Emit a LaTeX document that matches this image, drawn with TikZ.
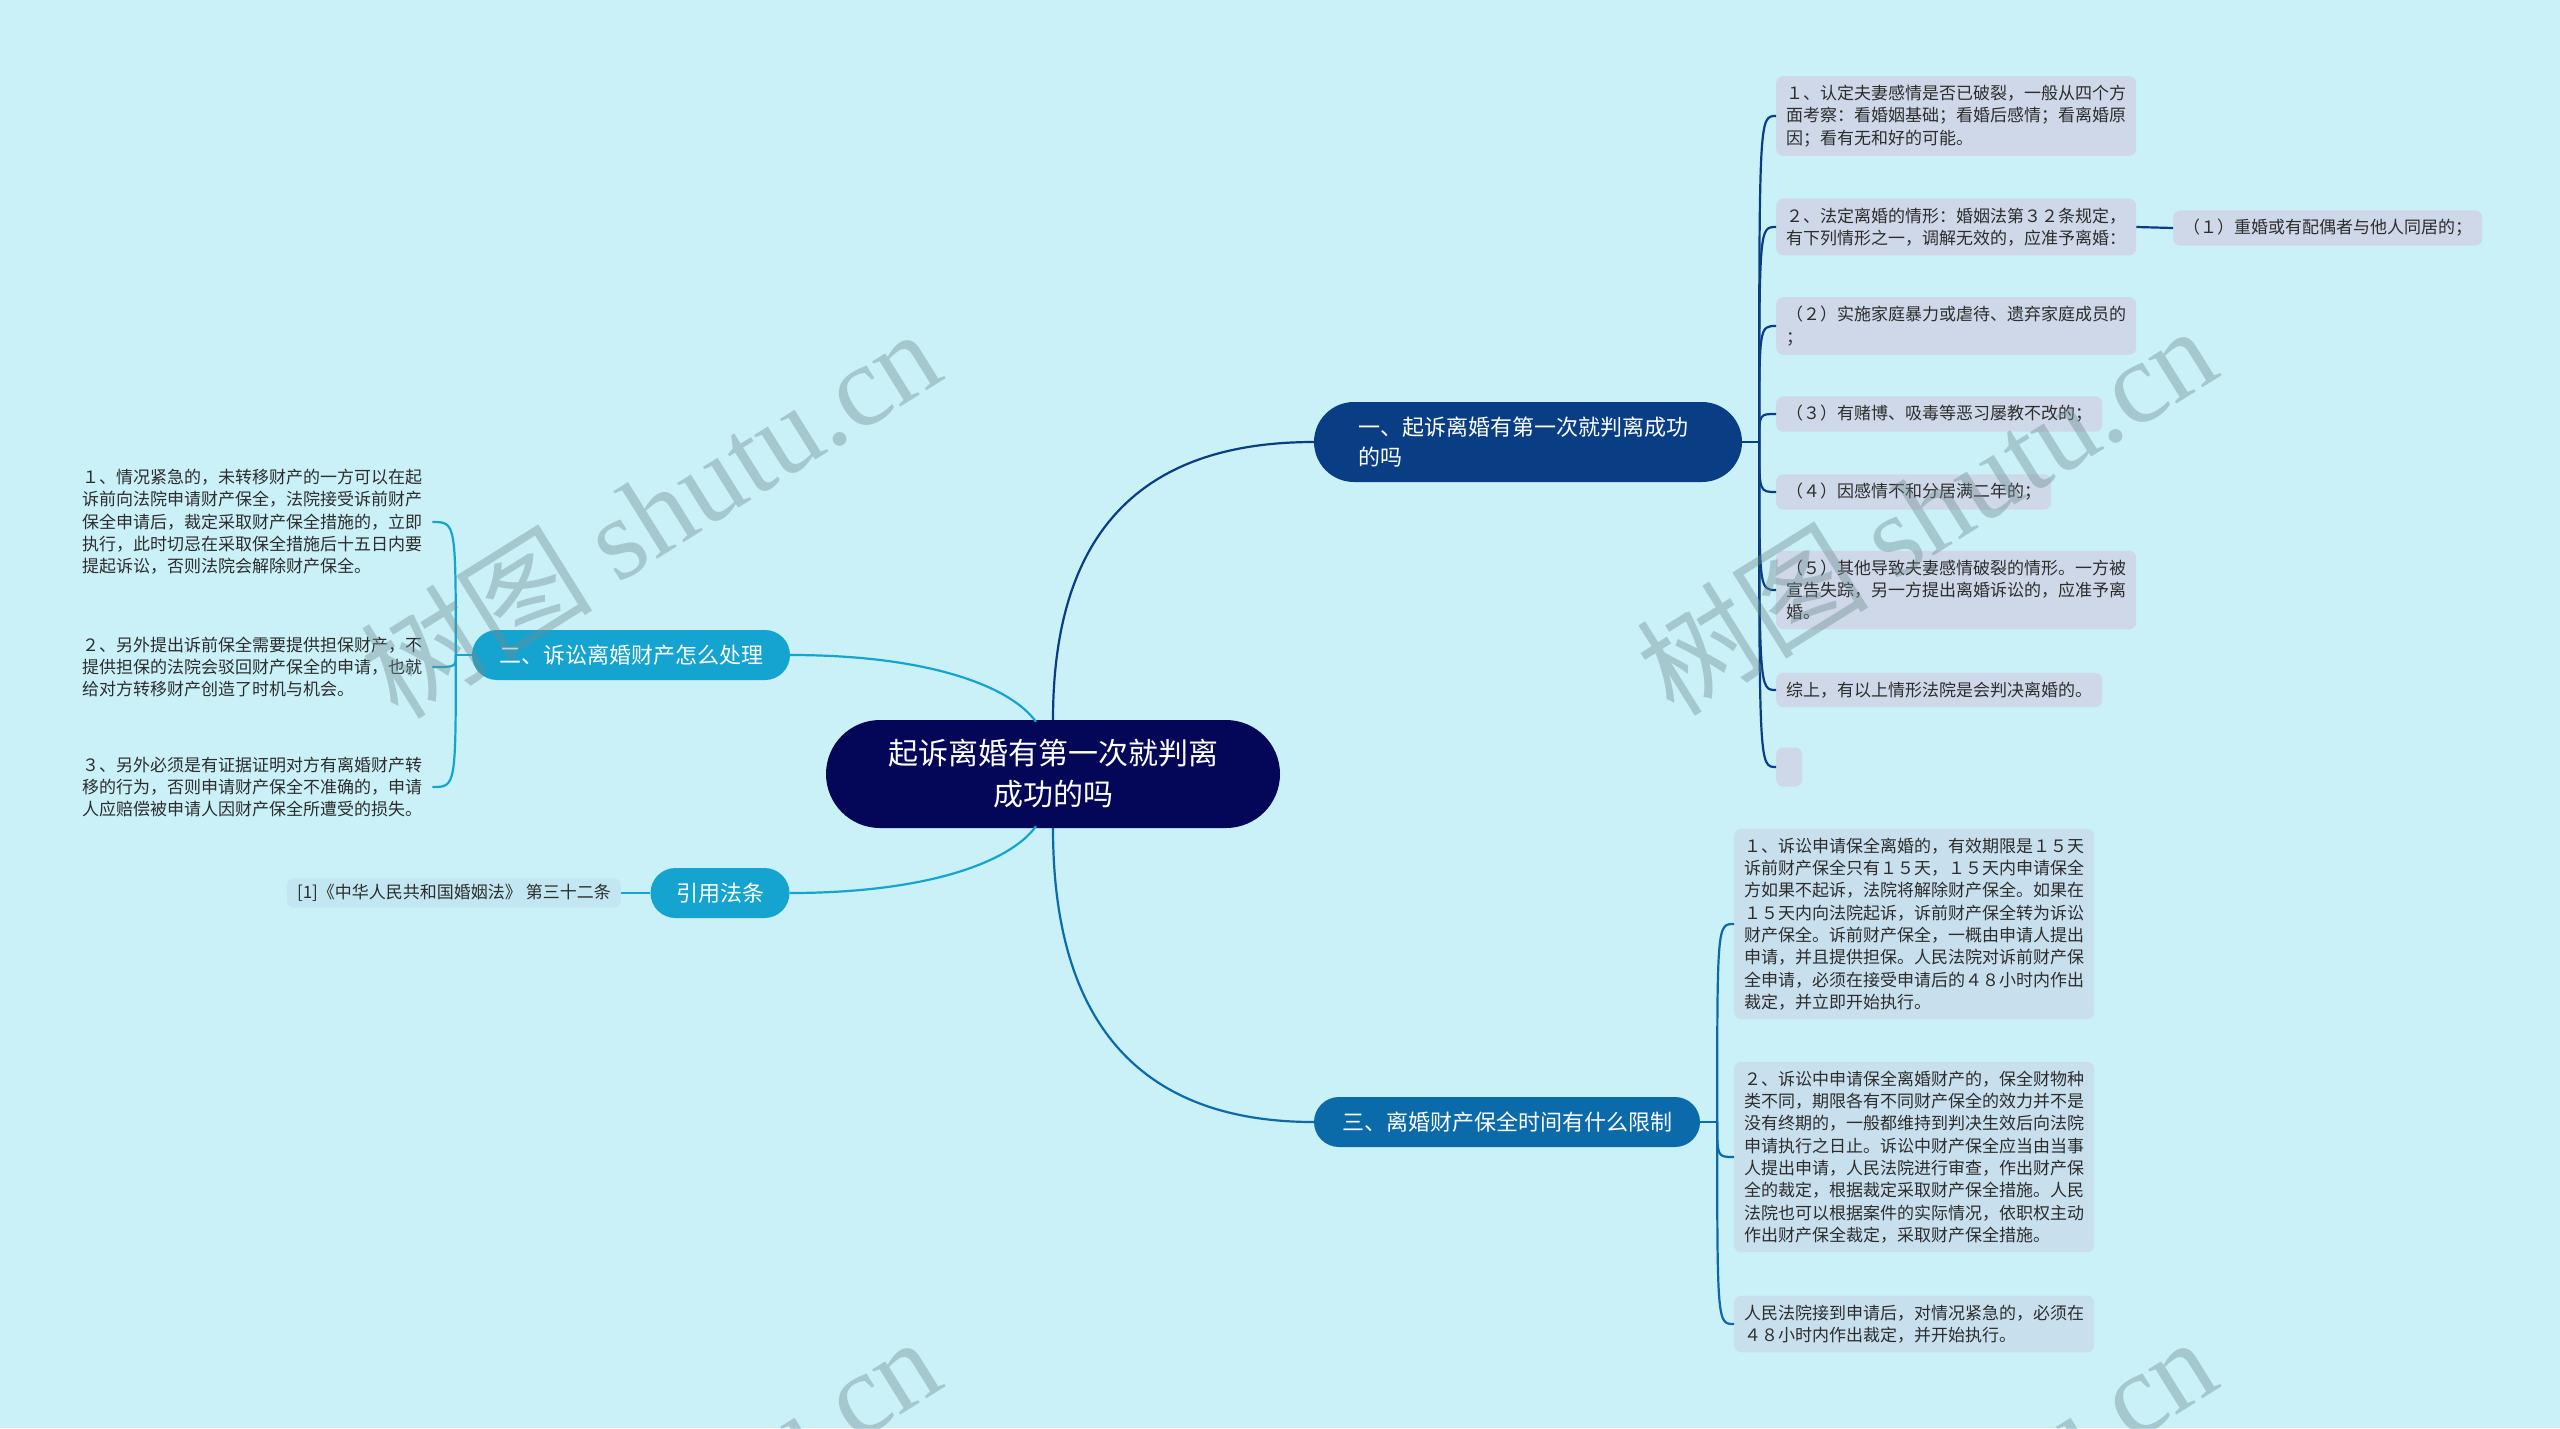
\documentclass[tikz,border=0pt]{standalone}
\usepackage{fontspec}
\setmainfont{Noto Sans CJK SC}
\newfontfamily\wmfont{Liberation Serif}
\usetikzlibrary{calc}
\definecolor{bgc}{RGB}{202,240,248}
\definecolor{rootc}{RGB}{4,6,88}
\definecolor{bonec}{RGB}{9,62,133}
\definecolor{bthreec}{RGB}{11,106,170}
\definecolor{btwoc}{RGB}{20,164,207}
\definecolor{leafa}{RGB}{206,216,232}
\definecolor{leafb}{RGB}{200,223,237}
\definecolor{leafc}{RGB}{194,231,242}
\definecolor{txtc}{RGB}{45,45,45}
\definecolor{wmc}{RGB}{110,140,145}
\tikzset{
  rootbox/.style={fill=rootc, text=white, rounded corners=54pt, minimum width=454pt, minimum height=108pt, align=center, font=\fontsize{30}{41}\selectfont, inner sep=0pt},
  branchbox/.style={text=white, minimum height=50pt, inner xsep=0pt, inner ysep=0pt, font=\fontsize{22}{30}\selectfont},
  leafbox/.style={rounded corners=7pt, inner xsep=10pt, inner ysep=9pt, align=left, text=txtc, font=\fontsize{17}{22.3}\selectfont, anchor=west},
  plainleaf/.style={inner xsep=10pt, inner ysep=4pt, align=left, text=txtc, font=\fontsize{17}{22.3}\selectfont, anchor=west},
  lone/.style={draw=bonec, line width=2.2pt},
  lthree/.style={draw=bthreec, line width=2.2pt},
  ltwo/.style={draw=btwoc, line width=2.2pt},
  wm/.style={rotate=32, text=wmc, opacity=0.4, font=\fontsize{116}{116}\selectfont, inner sep=0pt}
}
\begin{document}
\begin{tikzpicture}[x=1pt,y=-1pt]
\fill[bgc] (0,0) rectangle (2560,1428);
\useasboundingbox (0,0) rectangle (2560,1428);
\clip (0,0) rectangle (2560,1428);

% root
\node[rootbox] (root) at (1053,774) {起诉离婚有第一次就判离\\成功的吗};

% branches
\node[branchbox, fill=bonec, rounded corners=40pt, minimum width=428pt, minimum height=80pt, text width=340pt, align=left] (bone) at (1528,442) {一、起诉离婚有第一次就判离成功\\的吗};
\node[branchbox, fill=bthreec, rounded corners=25pt, minimum width=386pt] (bthree) at (1507,1122) {三、离婚财产保全时间有什么限制};
\node[branchbox, fill=btwoc, rounded corners=25pt, minimum width=318pt] (btwo) at (631,655) {二、诉讼离婚财产怎么处理};
\node[branchbox, fill=btwoc, rounded corners=25pt, minimum width=139pt] (bcite) at (720,893) {引用法条};

% branch one leaves
\node[leafbox, fill=leafa] (la) at (1776,116) {１、认定夫妻感情是否已破裂，一般从四个方\\面考察：看婚姻基础；看婚后感情；看离婚原\\因；看有无和好的可能。};
\node[leafbox, fill=leafa] (lb) at (1776,227) {２、法定离婚的情形：婚姻法第３２条规定，\\有下列情形之一，调解无效的，应准予离婚：};
\node[leafbox, fill=leafa] (lba) at (2173,228) {（１）重婚或有配偶者与他人同居的；};
\node[leafbox, fill=leafa] (lc) at (1776,326) {（２）实施家庭暴力或虐待、遗弃家庭成员的\\；};
\node[leafbox, fill=leafa] (ld) at (1776,414) {（３）有赌博、吸毒等恶习屡教不改的；};
\node[leafbox, fill=leafa] (le) at (1776,492) {（４）因感情不和分居满二年的；};
\node[leafbox, fill=leafa] (lf) at (1776,590) {（５）其他导致夫妻感情破裂的情形。一方被\\宣告失踪，另一方提出离婚诉讼的，应准予离\\婚。};
\node[leafbox, fill=leafa] (lg) at (1776,690) {综上，有以上情形法院是会判决离婚的。};
\node[leafbox, fill=leafa, minimum width=26pt, minimum height=39pt, inner sep=0pt] (lh) at (1776,767) {};

% branch three leaves
\node[leafbox, fill=leafb] (ma) at (1734,924) {１、诉讼申请保全离婚的，有效期限是１５天\\诉前财产保全只有１５天，１５天内申请保全\\方如果不起诉，法院将解除财产保全。如果在\\１５天内向法院起诉，诉前财产保全转为诉讼\\财产保全。诉前财产保全，一概由申请人提出\\申请，并且提供担保。人民法院对诉前财产保\\全申请，必须在接受申请后的４８小时内作出\\裁定，并立即开始执行。};
\node[leafbox, fill=leafb] (mb) at (1734,1157) {２、诉讼中申请保全离婚财产的，保全财物种\\类不同，期限各有不同财产保全的效力并不是\\没有终期的，一般都维持到判决生效后向法院\\申请执行之日止。诉讼中财产保全应当由当事\\人提出申请，人民法院进行审查，作出财产保\\全的裁定，根据裁定采取财产保全措施。人民\\法院也可以根据案件的实际情况，依职权主动\\作出财产保全裁定，采取财产保全措施。};
\node[leafbox, fill=leafb] (mc) at (1734,1324) {人民法院接到申请后，对情况紧急的，必须在\\４８小时内作出裁定，并开始执行。};

% branch two leaves
\node[plainleaf] (na) at (72,522) {１、情况紧急的，未转移财产的一方可以在起\\诉前向法院申请财产保全，法院接受诉前财产\\保全申请后，裁定采取财产保全措施的，立即\\执行，此时切忌在采取保全措施后十五日内要\\提起诉讼，否则法院会解除财产保全。};
\node[plainleaf] (nb) at (72,667) {２、另外提出诉前保全需要提供担保财产，不\\提供担保的法院会驳回财产保全的申请，也就\\给对方转移财产创造了时机与机会。};
\node[plainleaf] (nc) at (72,787) {３、另外必须是有证据证明对方有离婚财产转\\移的行为，否则申请财产保全不准确的，申请\\人应赔偿被申请人因财产保全所遭受的损失。};

% citation leaf
\node[leafbox, fill=leafc, anchor=east, inner ysep=6pt] (ca) at (621,893) {[1]《中华人民共和国婚姻法》 第三十二条};

% root connectors
\coordinate (rtl) at ($(root.north)+(-17,2)$);
\coordinate (rbl) at ($(root.south)+(-17,-2)$);
\draw[lone] (root.north) .. controls ($(root.north)+(0,-210)$) and ($(bone.west)+(-150,0)$) .. (bone.west);
\draw[lthree] (root.south) .. controls ($(root.south)+(0,220)$) and ($(bthree.west)+(-150,0)$) .. (bthree.west);
\draw[ltwo] (btwo.east) .. controls ($(btwo.east)+(140,0)$) and ($(rtl)+(-25,-35)$) .. (rtl);
\draw[ltwo] (bcite.east) .. controls ($(bcite.east)+(140,0)$) and ($(rbl)+(-25,35)$) .. (rbl);

% branch one connectors
\coordinate (sone) at ($(bone.east)+(17,0)$);
\draw[lone] (bone.east) -- (sone);
\foreach \n in {la,lb,lc,ld,le,lf,lg,lh}{
  \draw[lone] (sone) .. controls (sone |- \n.west) .. (\n.west);
}
\draw[lone] (lb.east) -- (lba.west);

% branch three connectors
\coordinate (sthree) at ($(bthree.east)+(17,0)$);
\draw[lthree] (bthree.east) -- (sthree);
\foreach \n in {ma,mb,mc}{
  \draw[lthree] (sthree) .. controls (sthree |- \n.west) .. (\n.west);
}

% branch two connectors
\coordinate (stwo) at ($(btwo.west)+(-16,0)$);
\draw[ltwo] (btwo.west) -- (stwo);
\foreach \n in {na,nb,nc}{
  \draw[ltwo] (stwo) .. controls (stwo |- \n.east) .. (\n.east);
}
\draw[ltwo] (bcite.west) -- (ca.east);

% watermarks
\node[wm] (wma) at (650,512) {树图 {\wmfont shutu.cn}};
\node[wm] (wmb) at (1926,509) {树图 {\wmfont shutu.cn}};
\node[wm] (wmc) at (650,1520) {树图 {\wmfont shutu.cn}};
\node[wm] (wmd) at (1926,1520) {树图 {\wmfont shutu.cn}};
\end{tikzpicture}
\end{document}
